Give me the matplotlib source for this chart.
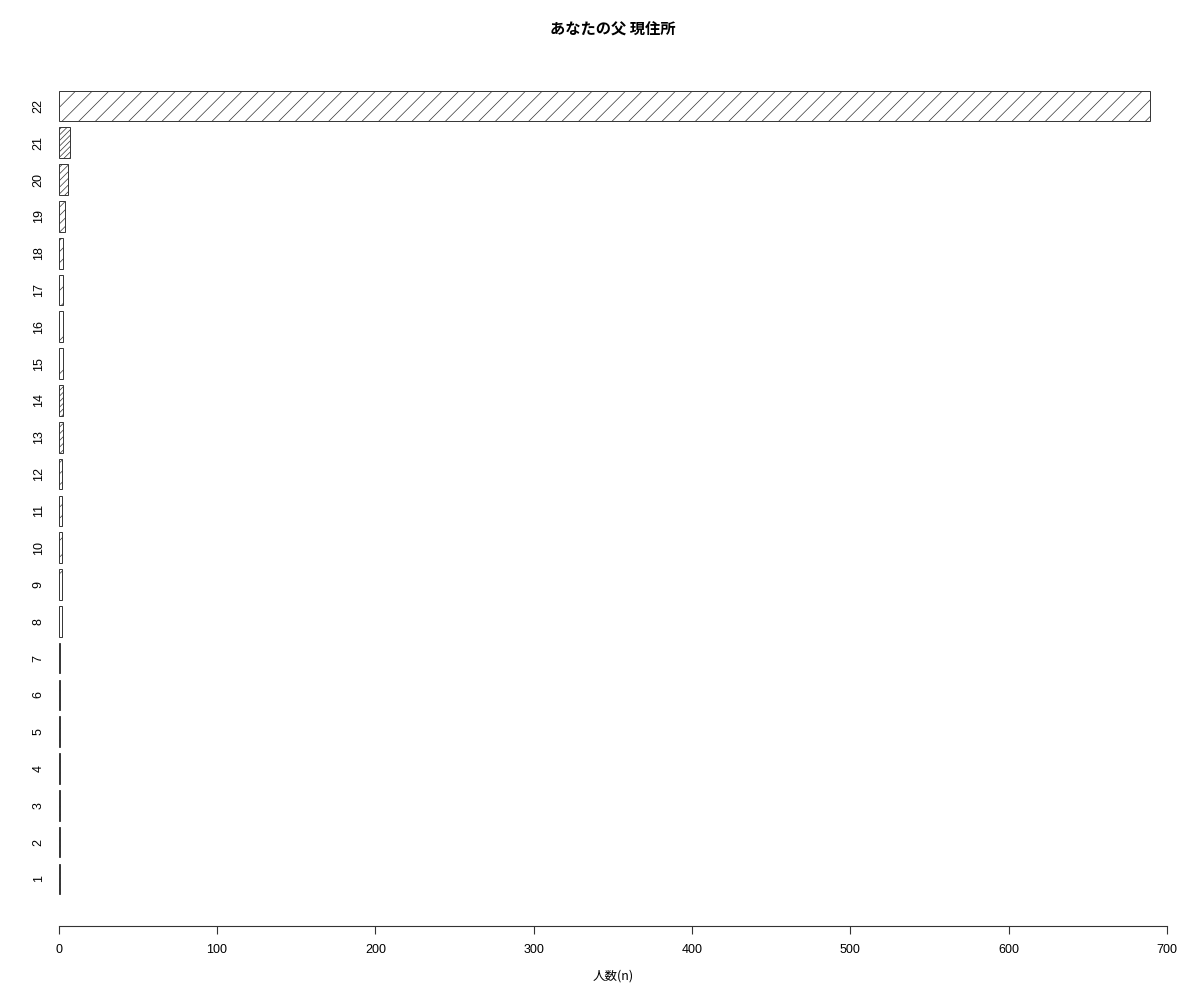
import matplotlib
matplotlib.use("Agg")
import matplotlib.pyplot as plt
import numpy as np

plt.rcParams['font.family'] = ['Liberation Sans', 'Noto Sans CJK JP', 'DejaVu Sans']
plt.rcParams['hatch.linewidth'] = 0.5
plt.rcParams['hatch.color'] = '#222222'

categories = [str(i) for i in range(1, 23)]
values = [1, 1, 1, 1, 1, 1, 1, 2, 2, 2, 2, 2, 3, 3, 3, 3, 3, 3, 4, 6, 7, 689]
hatches = ['//////', '/////', '////', '///', '///', '//', '/',
           '/', '/', '//', '///', '///', '/////', '//////',
           '/', '/', '//', '///', '////', '/////', '//////',
           '//']
title = "あなたの父 現住所"
xlabel = "人数(n)"
xticks = [0, 100, 200, 300, 400, 500, 600, 700]

fig = plt.figure(figsize=(12, 10), dpi=100)
W, H = 1200, 1000
x0_px, x1_px = 58.7, 1167.0
top_px, bot_px = 60.0, 926.0
ax = fig.add_axes([x0_px / W, 1 - bot_px / H, (x1_px - x0_px) / W, (bot_px - top_px) / H])

pos = np.arange(1, len(categories) + 1)
for p, v, h in zip(pos, values, hatches):
    ax.barh(p, v, height=1 / 1.2, left=0, color='white', edgecolor='#333333',
            linewidth=0.7, hatch=h)

ax.set_xlim(0, 700)
ax.set_ylim(-0.28, 22 + (106 - top_px) / 36.8)

for s in ['top', 'right', 'left']:
    ax.spines[s].set_visible(False)
ax.spines['bottom'].set_bounds(0, 700)
ax.spines['bottom'].set_linewidth(0.8)
ax.spines['bottom'].set_color('#333333')
ax.set_xticks(xticks)
ax.set_xticklabels([str(t) for t in xticks], fontsize=9)
ax.tick_params(axis='x', length=6, width=0.8, pad=7, color='#333333')
ax.set_yticks(pos)
ax.set_yticklabels(categories, fontsize=9, rotation=90, va='center')
ax.tick_params(axis='y', length=0, pad=10)

fig.text(613 / W, 1 - 30 / H, title, ha='center', va='center', fontsize=11,
         fontweight='bold', family=['Noto Sans CJK JP', 'DejaVu Sans'])
fig.text(613 / W, 1 - 976 / H, xlabel, ha='center', va='center', fontsize=9,
         family=['Noto Sans CJK JP', 'DejaVu Sans'])

fig.savefig("out.png", dpi=100, facecolor='white')
